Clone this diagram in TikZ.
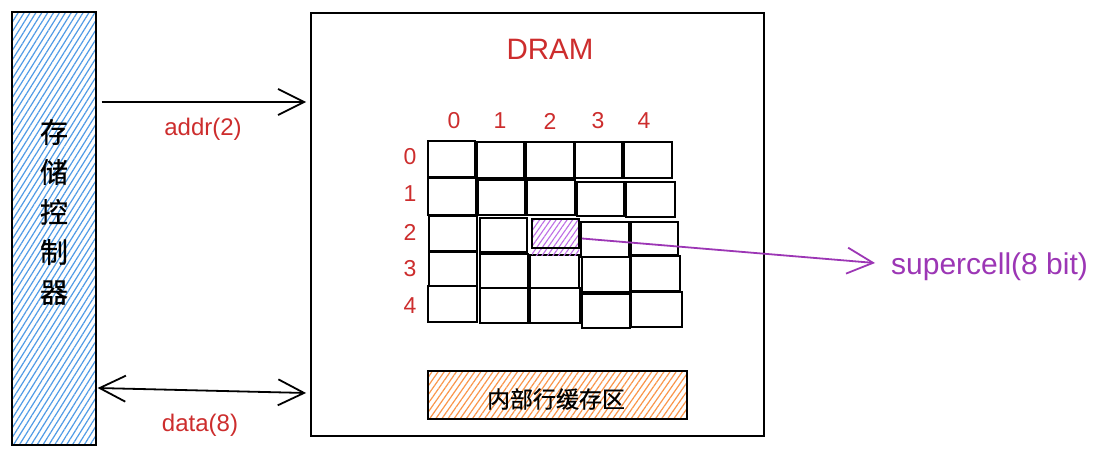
\documentclass[tikz,border=0pt]{standalone}
\usepackage{fontspec}
\setmainfont{Liberation Sans}
\newfontfamily\cjk[FakeBold=0.6]{Noto Sans CJK SC}
\usetikzlibrary{arrows.meta,patterns.meta,calc}
\definecolor{xred}{RGB}{205,45,45}
\definecolor{xpurple}{RGB}{156,54,181}
\definecolor{xblue}{RGB}{80,155,230}
\definecolor{xorange}{RGB}{250,150,75}
\definecolor{xhatchp}{RGB}{190,110,230}
\tikzset{
  box/.style={draw=black,line width=1.9pt,inner sep=0pt},
  cell/.style={draw=black,line width=1.9pt},
  lbl/.style={text=xred,font=\fontsize{23}{26}\selectfont,inner sep=0pt},
  arr/.style={line width=1.8pt,-{Straight Barb[length=26pt,width=26pt,line width=1.8pt]}},
  darr/.style={line width=1.8pt,{Straight Barb[length=26pt,width=26pt,line width=1.8pt]}-{Straight Barb[length=26pt,width=26pt,line width=1.8pt]}},
}
\begin{document}
\begin{tikzpicture}[x=1pt,y=-1pt]
\useasboundingbox (0,0) rectangle (1098,457);
\fill[white] (0,0) rectangle (1098,457);
% memory controller
\node[box,minimum width=84pt,minimum height=433pt,
  pattern={Lines[angle=58,distance=5pt,line width=1.2pt]},pattern color=xblue] (ctrl) at (54,228.5) {};
\node[align=center,font=\cjk\fontsize{28}{40}\selectfont,inner sep=0pt] (ctrltxt) at (54,212) {存\\储\\控\\制\\器};
% DRAM box
\node[box,minimum width=453pt,minimum height=423pt] (dram) at (537.5,224.5) {};
\node[text=xred,font=\fontsize{29.5}{32}\selectfont,inner sep=0pt] (dramtxt) at (550,49) {DRAM};
% connectors
\coordinate (ya) at (0,102);
\coordinate (yd) at (0,390);
\draw[arr] ($(ctrl.east |- ya)+(5,0)$) -- ($(dram.west |- ya)+(-4,0)$);
\node[text=xred,font=\fontsize{24}{26}\selectfont,inner sep=0pt] (addr) at (203,129) {addr(2)};
\draw[darr] ($(ctrl.east |- yd)+(1,-2)$) -- ($(dram.west |- yd)+(-4,3)$);
\node[text=xred,font=\fontsize{24}{26}\selectfont,inner sep=0pt] (data) at (200,425) {data(8)};
% column labels
\foreach \x/\t [count=\i from 0] in {454/0,500/1,550/2,598/3,644/4}
  \node[lbl] (col\i) at (\x,121) {\t};
% row labels
\foreach \y/\t [count=\i from 0] in {157/0,194/1,232/2,269/3,306/4}
  \node[lbl] (row\i) at (410,\y) {\t};
% cells: name / x1 / y1 / x2 / y2
\foreach \n/\a/\b/\c/\d in {
  c00/428/141/475/177, c01/477/142/524/178, c02/526/142/574/178, c03/575/142/622/178, c04/624/142/672/178,
  c10/428/178/476/215, c11/478/180/525/215, c12/527/180/575/215, c13/577/182/624/216, c14/626/182/675/217,
  c20/429/216/477/251, c21/480/218/527/252, c23/581/222/629/257, c24/631/222/678/255,
  c30/429/252/477/286, c31/480/254/528/288, c32/530/255/579/288, c33/582/257/630/292, c34/631/256/680/291,
  c40/428/286/477/322, c41/480/288/528/323, c42/530/288/580/323, c43/582/294/630/328, c44/631/292/682/327}
  \draw[cell] (\a,\b) rectangle (\c,\d) coordinate (\n);
% highlighted supercell
\fill[pattern={Lines[angle=55,distance=4.5pt,line width=1.1pt]},pattern color=xhatchp] (532,219) rectangle (579,256);
\node[draw=black,line width=1.9pt,minimum width=47pt,minimum height=29pt,inner sep=0pt] (sc) at (555.5,233.5) {};
% supercell label
\node[text=xpurple,font=\fontsize{30}{32}\selectfont,inner sep=0pt,anchor=west] (sct) at (891,267) {supercell(8 bit)};
\draw[line width=1.8pt,xpurple,-{Straight Barb[length=26pt,width=26pt,line width=1.8pt]}] ($(sc.east)+(2,5)$) -- ($(sct.west)+(-16,-4)$);
% row buffer
\node[box,minimum width=259pt,minimum height=48pt,
  pattern={Lines[angle=55,distance=5pt,line width=1.2pt]},pattern color=xorange] (buf) at (557.5,395) {};
\node[font=\cjk\fontsize{23}{26}\selectfont,inner sep=0pt] (buftxt) at (556,399) {内部行缓存区};
\end{tikzpicture}
\end{document}
